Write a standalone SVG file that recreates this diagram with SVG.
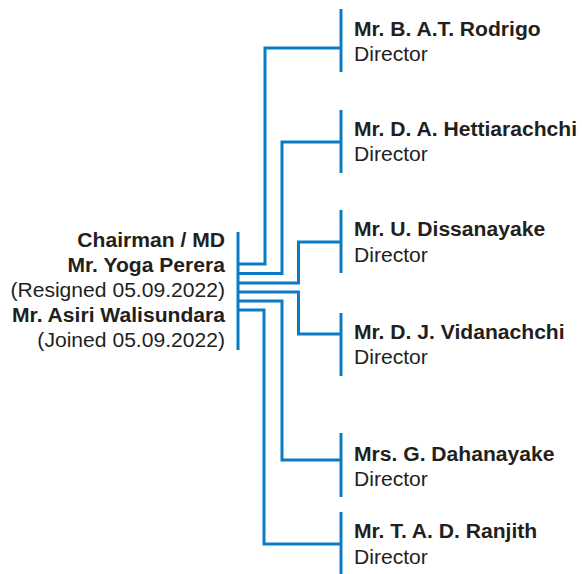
<svg xmlns="http://www.w3.org/2000/svg" width="582" height="574" viewBox="0 0 582 574">
  <style>
    .t { font-family: "Liberation Sans", Arial, Helvetica, sans-serif; font-size: 21.1px; fill: #231f20; }
    .b { font-weight: bold; }
    .l { text-anchor: end; }
    .ln { fill: none; stroke: #0a7cc4; stroke-width: 3; }
  </style>
  <rect width="582" height="574" fill="#ffffff"/>

  <g id="connectors">
    <!-- chairman bar -->
    <path class="ln" d="M238,232 V350"/>
    <!-- branches -->
    <path class="ln" d="M238,264 H265 V48 H341"/>
    <path class="ln" d="M238,273.5 H282 V142 H341"/>
    <path class="ln" d="M238,283 H298.5 V242 H341"/>
    <path class="ln" d="M238,292 H298.5 V334 H341"/>
    <path class="ln" d="M238,301 H282 V460 H341"/>
    <path class="ln" d="M238,310 H264 V544 H341"/>
  </g>

  <g id="chairman">
    <text class="t b l" x="225" y="247">Chairman / MD</text>
    <text class="t b l" x="225" y="272">Mr. Yoga Perera</text>
    <text class="t l" x="225" y="297">(Resigned 05.09.2022)</text>
    <text class="t b l" x="225" y="322">Mr. Asiri Walisundara</text>
    <text class="t l" x="225" y="347">(Joined 05.09.2022)</text>
  </g>

  <g id="director-rodrigo">
    <path class="ln" d="M341,9 V72"/>
    <text class="t b" x="354" y="36">Mr. B. A.T. Rodrigo</text>
    <text class="t" x="354" y="61">Director</text>
  </g>
  <g id="director-hettiarachchi">
    <path class="ln" d="M341,110 V173"/>
    <text class="t b" x="354" y="136">Mr. D. A. Hettiarachchi</text>
    <text class="t" x="354" y="161">Director</text>
  </g>
  <g id="director-dissanayake">
    <path class="ln" d="M341,210 V273"/>
    <text class="t b" x="354" y="236">Mr. U. Dissanayake</text>
    <text class="t" x="354" y="261.5">Director</text>
  </g>
  <g id="director-vidanachchi">
    <path class="ln" d="M341,313 V376"/>
    <text class="t b" x="354" y="339">Mr. D. J. Vidanachchi</text>
    <text class="t" x="354" y="364">Director</text>
  </g>
  <g id="director-dahanayake">
    <path class="ln" d="M341,433 V497"/>
    <text class="t b" x="354" y="461">Mrs. G. Dahanayake</text>
    <text class="t" x="354" y="486">Director</text>
  </g>
  <g id="director-ranjith">
    <path class="ln" d="M341,512 V574"/>
    <text class="t b" x="354" y="538">Mr. T. A. D. Ranjith</text>
    <text class="t" x="354" y="564">Director</text>
  </g>
</svg>
